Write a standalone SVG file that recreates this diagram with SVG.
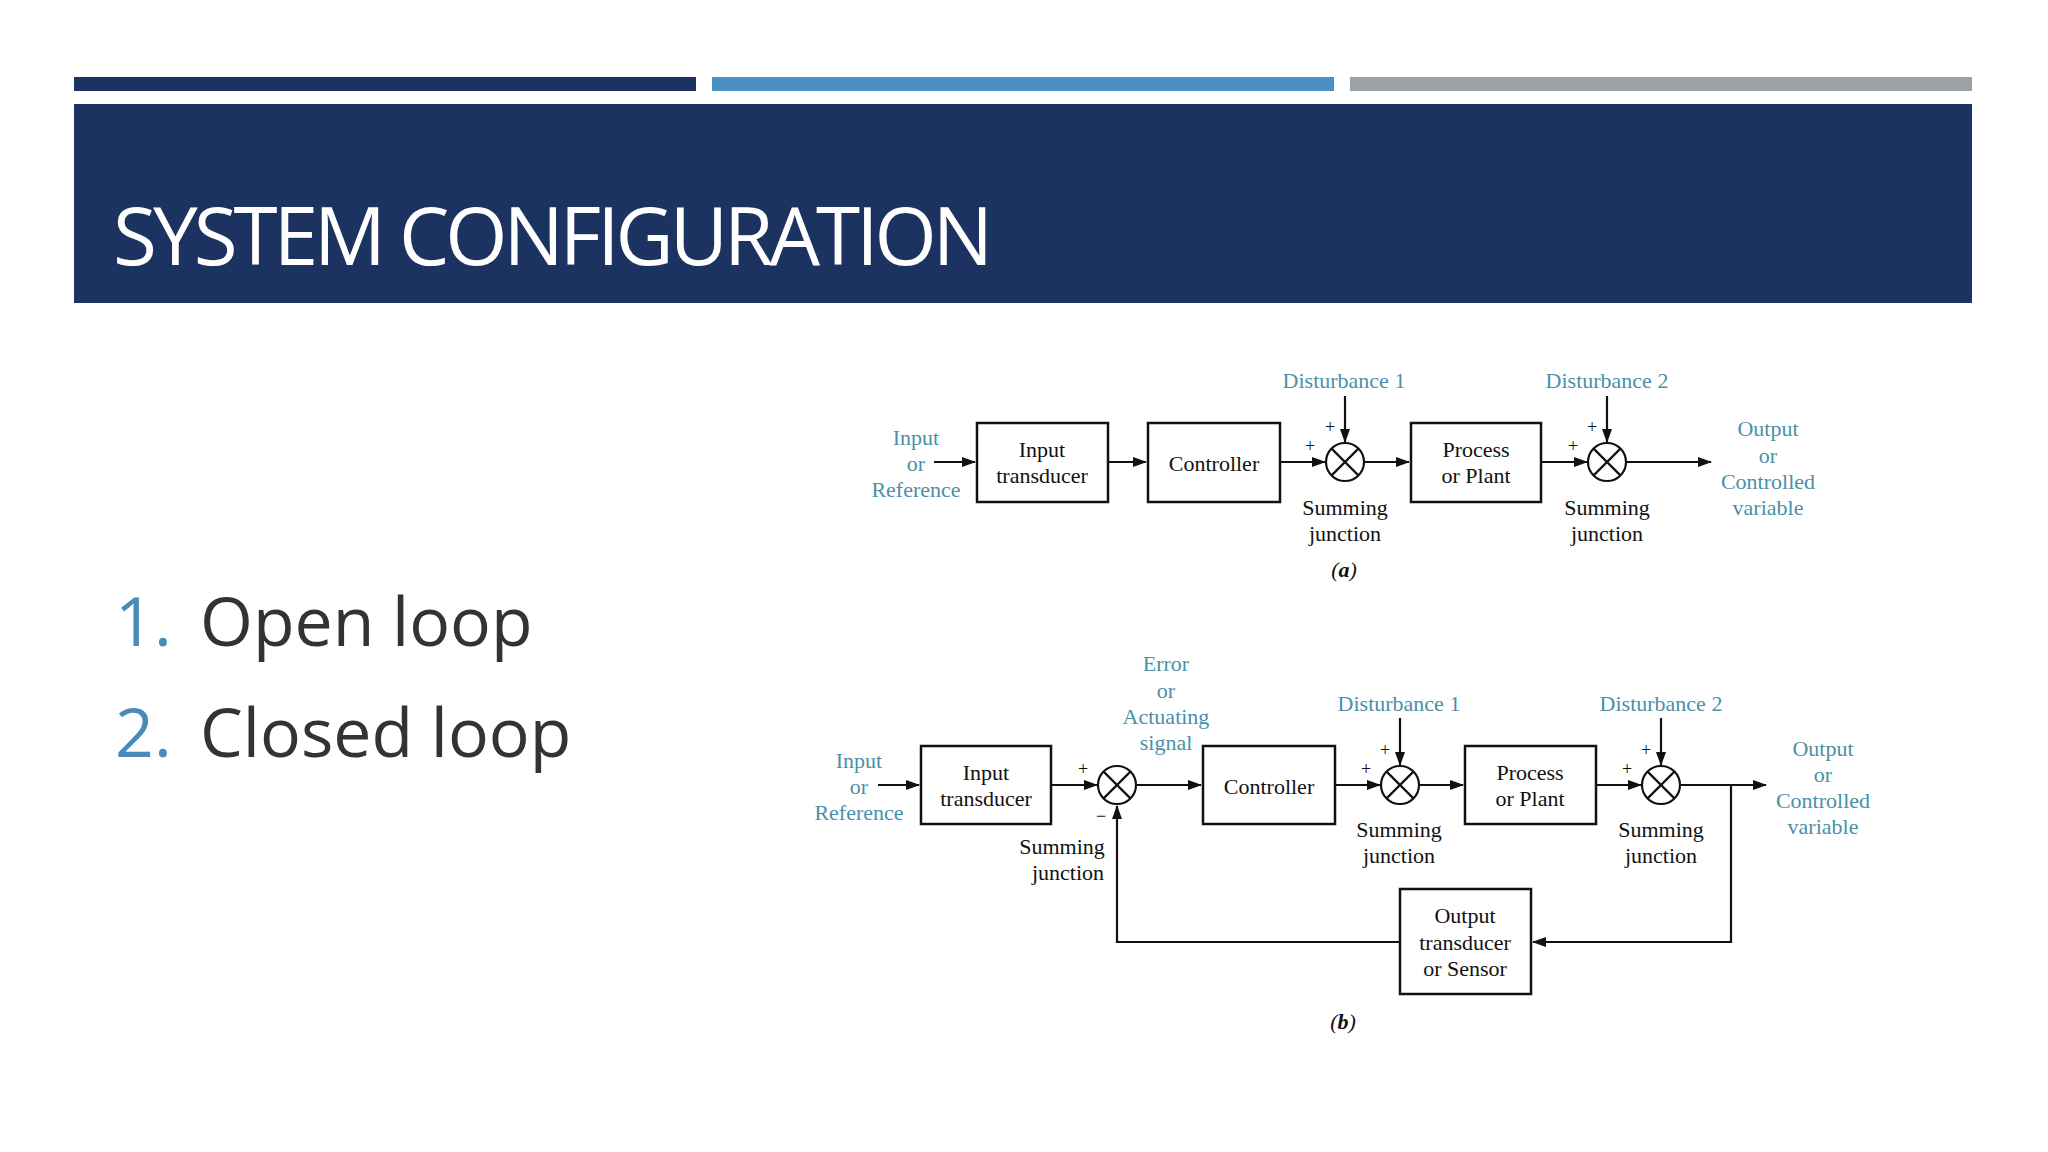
<svg xmlns="http://www.w3.org/2000/svg" width="2048" height="1152" viewBox="0 0 2048 1152">
<style>
.b{fill:#fff;stroke:#111;stroke-width:2.5}
.l{fill:none;stroke:#111;stroke-width:2.2}
.t{font-family:"Liberation Serif",serif;font-size:22px;fill:#111;text-anchor:middle;dominant-baseline:central}
.c{font-family:"Liberation Serif",serif;font-size:22px;fill:#4a90a8;text-anchor:middle;dominant-baseline:central}
.p{font-family:"Liberation Serif",serif;font-size:18px;fill:#111;text-anchor:middle;dominant-baseline:central}
</style>
<defs>
<marker id="a" markerWidth="14" markerHeight="10" refX="13" refY="5" orient="auto" markerUnits="userSpaceOnUse"><path d="M0,0 L14,5 L0,10 Z" fill="#111"/></marker>
<g id="sj"><circle r="19" fill="#fff" stroke="#111" stroke-width="2.2"/><path d="M-13.4,-13.4 L13.4,13.4 M13.4,-13.4 L-13.4,13.4" stroke="#111" stroke-width="2.2"/></g>
</defs>
<rect width="2048" height="1152" fill="#fff"/>
<rect x="74" y="77" width="622" height="14" fill="#1c3260"/>
<rect x="712" y="77" width="622" height="14" fill="#4a90c2"/>
<rect x="1350" y="77" width="622" height="14" fill="#9aa2a6"/>
<rect x="74" y="104" width="1898" height="199" fill="#1c3260"/>
<text x="113" y="265" font-family="Open Sans,sans-serif" font-size="80" fill="#fff" textLength="880">SYSTEM CONFIGURATION</text>
<text x="115" y="646" font-family="Open Sans,sans-serif" font-size="68" fill="#4a8cb8">1.</text>
<text x="200" y="646" font-family="Open Sans,sans-serif" font-size="68" fill="#333">Open loop</text>
<text x="115" y="757" font-family="Open Sans,sans-serif" font-size="68" fill="#4a8cb8">2.</text>
<text x="200" y="757" font-family="Open Sans,sans-serif" font-size="68" fill="#333">Closed loop</text>

<g id="connectors">
<path class="l" d="M934,462 H975" marker-end="url(#a)"/>
<path class="l" d="M1108,462 H1146" marker-end="url(#a)"/>
<path class="l" d="M1280,462 H1325" marker-end="url(#a)"/>
<path class="l" d="M1364,462 H1409" marker-end="url(#a)"/>
<path class="l" d="M1541,462 H1587" marker-end="url(#a)"/>
<path class="l" d="M1626,462 H1711" marker-end="url(#a)"/>
<path class="l" d="M1345,396 V442" marker-end="url(#a)"/>
<path class="l" d="M1607,396 V442" marker-end="url(#a)"/>

<path class="l" d="M878,785 H919" marker-end="url(#a)"/>
<path class="l" d="M1051,785 H1097" marker-end="url(#a)"/>
<path class="l" d="M1136,785 H1201" marker-end="url(#a)"/>
<path class="l" d="M1335,785 H1380" marker-end="url(#a)"/>
<path class="l" d="M1419,785 H1463" marker-end="url(#a)"/>
<path class="l" d="M1596,785 H1641" marker-end="url(#a)"/>
<path class="l" d="M1680,785 H1766" marker-end="url(#a)"/>
<path class="l" d="M1400,718 V765" marker-end="url(#a)"/>
<path class="l" d="M1661,718 V765" marker-end="url(#a)"/>
<path class="l" d="M1731,785 V942 H1533" marker-end="url(#a)"/>
<path class="l" d="M1400,942 H1117 V806" marker-end="url(#a)"/>
</g>

<g id="a-input"><rect class="b" x="977" y="423" width="131" height="79"/><text class="t" x="1042" y="449">Input</text><text class="t" x="1042" y="475">transducer</text></g>
<g id="a-controller"><rect class="b" x="1148" y="423" width="132" height="79"/><text class="t" x="1214" y="463">Controller</text></g>
<g id="a-sum1"><use href="#sj" x="1345" y="462"/></g>
<g id="a-process"><rect class="b" x="1411" y="423" width="130" height="79"/><text class="t" x="1476" y="449">Process</text><text class="t" x="1476" y="475">or Plant</text></g>
<g id="a-sum2"><use href="#sj" x="1607" y="462"/></g>
<g id="a-labels">
<text class="c" x="916" y="437">Input</text><text class="c" x="916" y="463">or</text><text class="c" x="916" y="489">Reference</text>
<text class="c" x="1344" y="380">Disturbance 1</text><text class="c" x="1607" y="380">Disturbance 2</text>
<text class="p" x="1310" y="446">+</text><text class="p" x="1330" y="427">+</text>
<text class="p" x="1573" y="446">+</text><text class="p" x="1592" y="427">+</text>
<text class="t" x="1345" y="507">Summing</text><text class="t" x="1345" y="533">junction</text>
<text class="t" x="1607" y="507">Summing</text><text class="t" x="1607" y="533">junction</text>
<text class="c" x="1768" y="428">Output</text><text class="c" x="1768" y="455">or</text><text class="c" x="1768" y="481">Controlled</text><text class="c" x="1768" y="507">variable</text>
<text class="t" x="1344" y="569" font-style="italic">(<tspan font-weight="bold">a</tspan>)</text>
</g>

<g id="b-input"><rect class="b" x="921" y="746" width="130" height="78"/><text class="t" x="986" y="772">Input</text><text class="t" x="986" y="798">transducer</text></g>
<g id="b-sum0"><use href="#sj" x="1117" y="785"/></g>
<g id="b-controller"><rect class="b" x="1203" y="746" width="132" height="78"/><text class="t" x="1269" y="786">Controller</text></g>
<g id="b-sum1"><use href="#sj" x="1400" y="785"/></g>
<g id="b-process"><rect class="b" x="1465" y="746" width="131" height="78"/><text class="t" x="1530" y="772">Process</text><text class="t" x="1530" y="798">or Plant</text></g>
<g id="b-sum2"><use href="#sj" x="1661" y="785"/></g>
<g id="b-sensor"><rect class="b" x="1400" y="889" width="131" height="105"/><text class="t" x="1465" y="915">Output</text><text class="t" x="1465" y="942">transducer</text><text class="t" x="1465" y="968">or Sensor</text></g>
<g id="b-labels">
<text class="c" x="859" y="760">Input</text><text class="c" x="859" y="786">or</text><text class="c" x="859" y="812">Reference</text>
<text class="c" x="1166" y="663">Error</text><text class="c" x="1166" y="690">or</text><text class="c" x="1166" y="716">Actuating</text><text class="c" x="1166" y="742">signal</text>
<text class="c" x="1399" y="703">Disturbance 1</text><text class="c" x="1661" y="703">Disturbance 2</text>
<text class="p" x="1083" y="769">+</text><text class="p" x="1101" y="816">−</text>
<text class="p" x="1366" y="769">+</text><text class="p" x="1385" y="750">+</text>
<text class="p" x="1627" y="769">+</text><text class="p" x="1646" y="750">+</text>
<text class="t" x="1062" y="846">Summing</text><text class="t" x="1068" y="872">junction</text>
<text class="t" x="1399" y="829">Summing</text><text class="t" x="1399" y="855">junction</text>
<text class="t" x="1661" y="829">Summing</text><text class="t" x="1661" y="855">junction</text>
<text class="c" x="1823" y="748">Output</text><text class="c" x="1823" y="774">or</text><text class="c" x="1823" y="800">Controlled</text><text class="c" x="1823" y="826">variable</text>
<text class="t" x="1343" y="1021" font-style="italic">(<tspan font-weight="bold">b</tspan>)</text>
</g>
</svg>
